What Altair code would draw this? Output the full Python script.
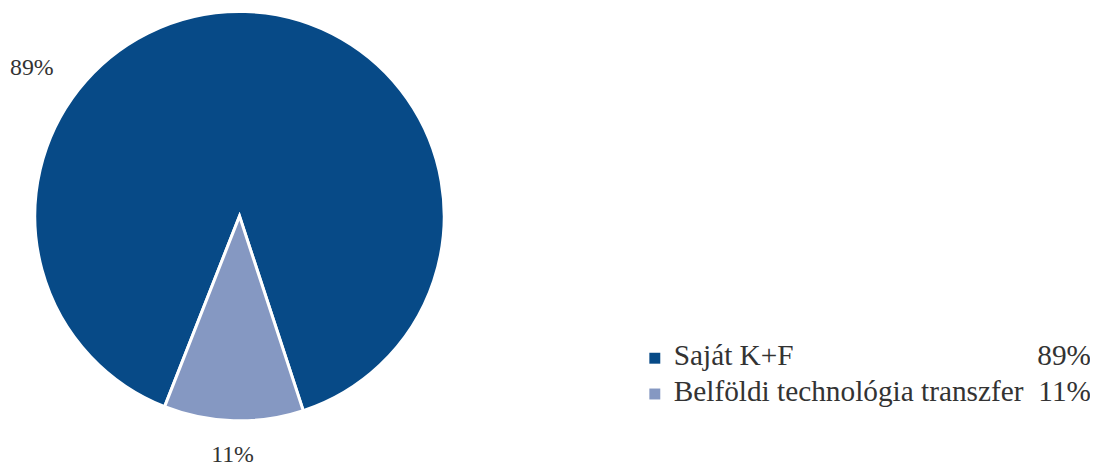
import math
import altair as alt
import pandas as pd

# --- data ---
labels = ["Saját K+F", "Belföldi technológia transzfer"]
values = [89, 11]
pct_text = ["89%", "11%"]
colors = ["#074a87", "#8598c2"]
stack_order = [1, 0]

df = pd.DataFrame({"label": labels, "value": values, "pct": pct_text, "ord": stack_order})

FONT = "Liberation Serif"
TXT = "#333333"
start = 2.825

theta = alt.Theta("value:Q", stack=True, scale=alt.Scale(range=[start, start + 2 * math.pi]))
color = alt.Color("label:N", scale=alt.Scale(domain=labels, range=colors), legend=None)
order = alt.Order("ord:Q")

base = alt.Chart(df)

pie = base.mark_arc(stroke="white", strokeWidth=3).encode(theta=theta, color=color, order=order)

small_label = base.mark_text(radius=241, font=FONT, fontSize=24, color=TXT, baseline="middle").encode(
    theta=theta, order=order,
    text=alt.condition(alt.datum.label == labels[1], "pct:N", alt.value("")),
)

big_label = base.transform_filter(alt.datum.label == labels[0]).mark_text(
    font=FONT, fontSize=24, color=TXT, align="left", baseline="alphabetic"
).encode(x=alt.value(-25), y=alt.value(64), text="pct:N")

ly = alt.Y("label:N", sort=labels, axis=None, scale=alt.Scale(range=[356, 392], padding=0))

leg_sq = base.mark_square(size=121, opacity=1, yOffset=-7).encode(x=alt.value(624), y=ly, color=color)
leg_name = base.mark_text(font=FONT, fontSize=29.5, color=TXT, align="left", baseline="alphabetic").encode(
    x=alt.value(643), y=ly, text="label:N")
leg_pct = base.mark_text(font=FONT, fontSize=29.5, color=TXT, align="right", baseline="alphabetic").encode(
    x=alt.value(1063), y=ly, text="pct:N")

chart = alt.layer(pie, small_label, big_label, leg_sq, leg_name, leg_pct).properties(
    width=412, height=412,
    background="white",
    autosize=alt.AutoSizeParams(type="none"),
    padding={"left": 27, "top": 2, "right": 650, "bottom": 46},
).configure_view(strokeWidth=0, stroke="transparent")

chart.save("out.html", embed_options={"renderer": "svg", "actions": False})
